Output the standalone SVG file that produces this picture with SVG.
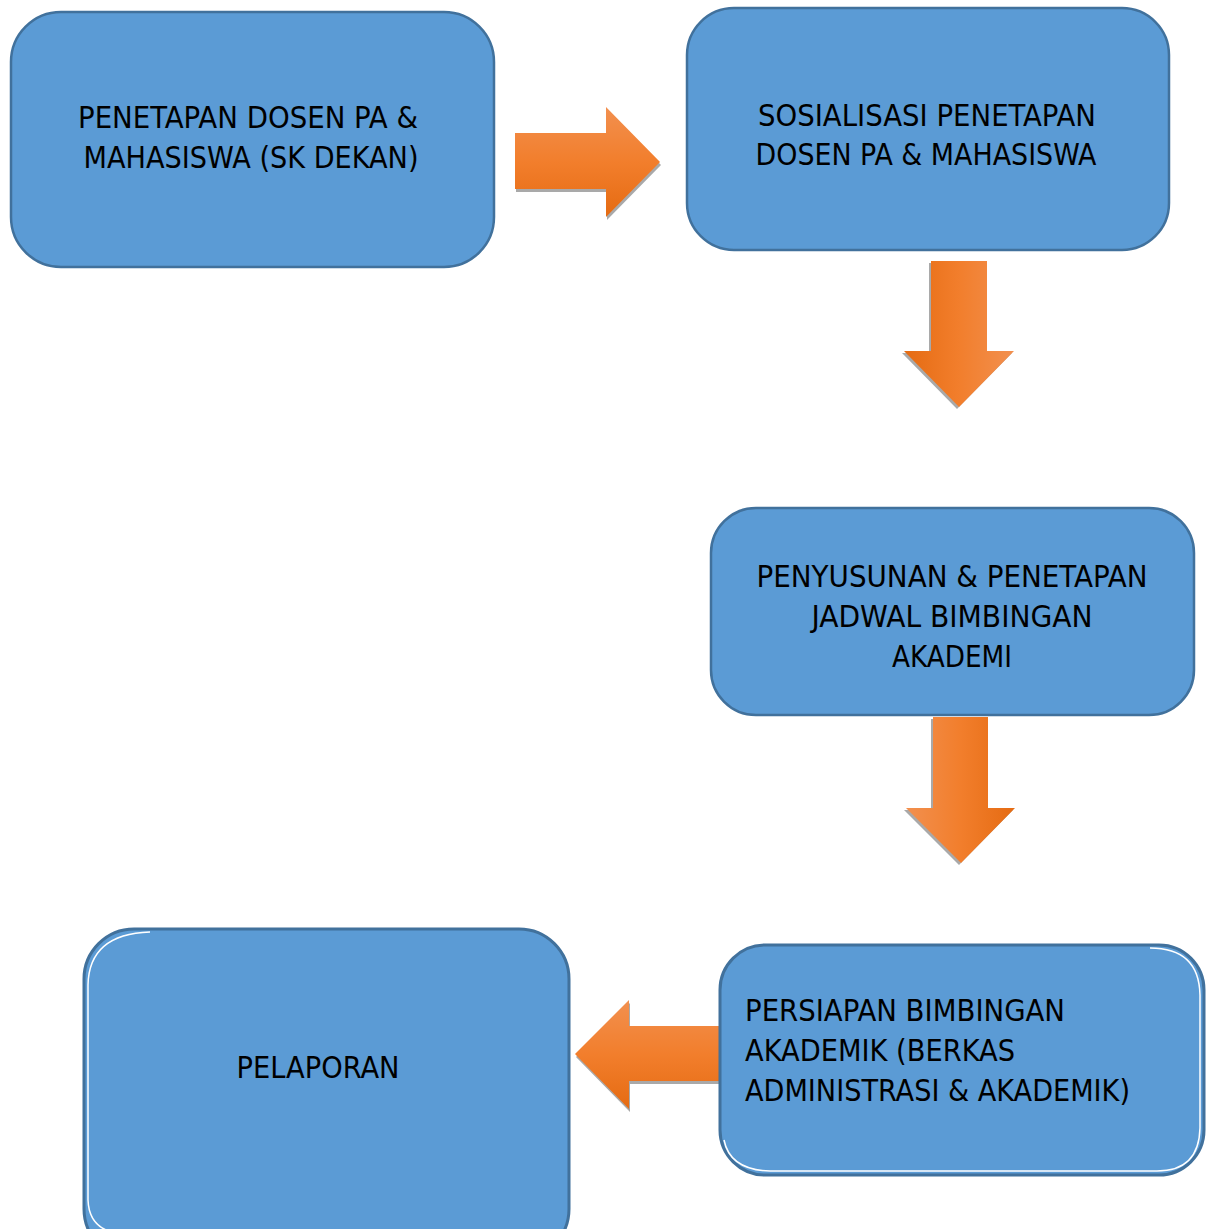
<svg xmlns="http://www.w3.org/2000/svg" width="1206" height="1229" viewBox="0 0 1206 1229">
<style>
.box{fill:#5B9BD5;stroke:#41719C;stroke-width:2.5}
.box2{fill:#5B9BD5;stroke:#41719C;stroke-width:3}
.inner{fill:none;stroke:#FFFFFF;stroke-width:1.5}
.lbl{font-family:"DejaVu Sans Condensed","DejaVu Sans","Liberation Sans",sans-serif;font-stretch:condensed;font-size:30px;fill:#000000}
.mid{text-anchor:middle}
.shadow{fill:#8C8C8C;opacity:0.75}
</style>
<defs>
<linearGradient id="gV" x1="0" y1="0" x2="0" y2="1">
<stop offset="0" stop-color="#F2904F"/>
<stop offset="0.5" stop-color="#F27E2C"/>
<stop offset="1" stop-color="#E56B12"/>
</linearGradient>
<linearGradient id="gLR" x1="0" y1="0" x2="1" y2="0">
<stop offset="0" stop-color="#E56B12"/>
<stop offset="0.5" stop-color="#F27E2C"/>
<stop offset="1" stop-color="#F2904F"/>
</linearGradient>
<linearGradient id="gRL" x1="0" y1="0" x2="1" y2="0">
<stop offset="0" stop-color="#F2904F"/>
<stop offset="0.5" stop-color="#F27E2C"/>
<stop offset="1" stop-color="#E56B12"/>
</linearGradient>
</defs>
<g id="connectors">
<g id="arrow1">
<polygon class="shadow" points="516,136 607,136 607,110 661,165 607,220 607,192 516,192"/>
<polygon fill="url(#gV)" points="515,133 606,133 606,107 660,162 606,217 606,189 515,189"/>
</g>
<g id="arrow2">
<polygon class="shadow" points="929,263 985,263 985,353 1012,353 957,409 902,353 929,353"/>
<polygon fill="url(#gLR)" points="931,261 987,261 987,351 1014,351 959,407 904,351 931,351"/>
</g>
<g id="arrow3">
<polygon class="shadow" points="931,719 986,719 986,810 1013,810 959,865 904,810 931,810"/>
<polygon fill="url(#gRL)" points="933,717 988,717 988,808 1015,808 961,863 906,808 933,808"/>
</g>
<g id="arrow4">
<polygon class="shadow" points="721,1029 630,1029 630,1003 576,1057 630,1112 630,1084 721,1084"/>
<polygon fill="url(#gV)" points="720,1026 629,1026 629,1000 575,1054 629,1109 629,1081 720,1081"/>
</g>
</g>
<g id="node1">
<rect class="box" x="11" y="12" width="483" height="255" rx="50" ry="50"/>
<text class="lbl mid" x="248" y="128" textLength="340" lengthAdjust="spacingAndGlyphs">PENETAPAN DOSEN PA &amp;</text>
<text class="lbl mid" x="251" y="168" textLength="335" lengthAdjust="spacingAndGlyphs">MAHASISWA (SK DEKAN)</text>
</g>
<g id="node2">
<rect class="box" x="687" y="8" width="482" height="242" rx="47" ry="47"/>
<text class="lbl mid" x="927" y="126" textLength="338" lengthAdjust="spacingAndGlyphs">SOSIALISASI PENETAPAN</text>
<text class="lbl mid" x="926" y="165" textLength="341" lengthAdjust="spacingAndGlyphs">DOSEN PA &amp; MAHASISWA</text>
</g>
<g id="node3">
<rect class="box" x="711" y="508" width="483" height="207" rx="45" ry="45"/>
<text class="lbl mid" x="952" y="587" textLength="391" lengthAdjust="spacingAndGlyphs">PENYUSUNAN &amp; PENETAPAN</text>
<text class="lbl mid" x="952" y="627" textLength="281" lengthAdjust="spacingAndGlyphs">JADWAL BIMBINGAN</text>
<text class="lbl mid" x="952" y="667" textLength="120" lengthAdjust="spacingAndGlyphs">AKADEMI</text>
</g>
<g id="node4">
<rect class="box2" x="720" y="945" width="484" height="230" rx="45" ry="45"/>
<path class="inner" d="M1150,948 Q1199,948 1200,995 L1200,1128 Q1199,1171 1157,1171 L770,1171 Q730,1170 724,1140"/>
<text class="lbl" x="745" y="1021" textLength="320" lengthAdjust="spacingAndGlyphs">PERSIAPAN BIMBINGAN</text>
<text class="lbl" x="745" y="1061" textLength="270" lengthAdjust="spacingAndGlyphs">AKADEMIK (BERKAS</text>
<text class="lbl" x="745" y="1101" textLength="385" lengthAdjust="spacingAndGlyphs">ADMINISTRASI &amp; AKADEMIK)</text>
</g>
<g id="node5">
<rect class="box2" x="84" y="929" width="485" height="330" rx="50" ry="50"/>
<path class="inner" d="M150,932 Q89,934 88,985 L88,1200 Q89,1226 112,1232"/>
<text class="lbl mid" x="318" y="1078" textLength="163" lengthAdjust="spacingAndGlyphs">PELAPORAN</text>
</g>
</svg>
